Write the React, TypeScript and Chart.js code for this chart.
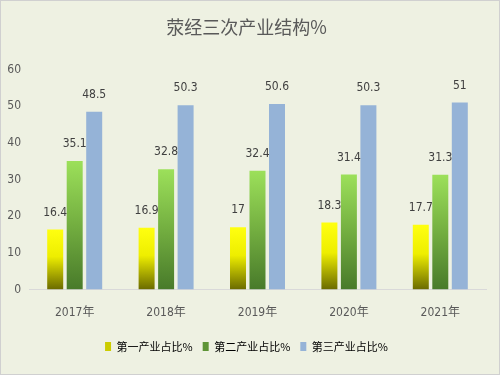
import React, { useEffect, useRef } from "react";
import { Chart, registerables } from "chart.js";

Chart.register(...registerables);

const categories = ["2017年", "2018年", "2019年", "2020年", "2021年"];
const primaryShare = [16.4, 16.9, 17, 18.3, 17.7];
const secondaryShare = [35.1, 32.8, 32.4, 31.4, 31.3];
const tertiaryShare = [48.5, 50.3, 50.6, 50.3, 51];
const seriesNames = ["第一产业占比%", "第二产业占比%", "第三产业占比%"];
const yTicks = [0, 10, 20, 30, 40, 50, 60];

const FONT = '"DejaVu Sans Condensed", "Noto Sans CJK SC", sans-serif';
const CJK = '"Noto Sans CJK SC", sans-serif';

function gradientFill(stops: [number, string][]) {
  return (ctx: any) => {
    const chart = ctx.chart;
    const ys = chart.scales?.y;
    if (!ys || ctx.dataIndex === undefined) return stops[0][1];
    const v = ctx.dataset.data[ctx.dataIndex] as number;
    const top = ys.getPixelForValue(v);
    const bottom = ys.getPixelForValue(0);
    if (!isFinite(top) || !isFinite(bottom) || top === bottom) return stops[0][1];
    const g = chart.ctx.createLinearGradient(0, top, 0, bottom);
    stops.forEach(([o, c]) => g.addColorStop(o, c));
    return g;
  };
}

const valueLabels = {
  id: "valueLabels",
  afterDatasetsDraw(chart: any) {
    const ctx = chart.ctx;
    ctx.save();
    ctx.font = `12px ${FONT}`;
    ctx.fillStyle = "#404040";
    ctx.textAlign = "center";
    ctx.textBaseline = "bottom";
    chart.data.datasets.forEach((ds: any, di: number) => {
      const meta = chart.getDatasetMeta(di);
      meta.data.forEach((el: any, i: number) => {
        ctx.fillText(String(ds.data[i]), el.x, el.y - 11);
      });
    });
    ctx.restore();
  },
};

export default function App() {
  const ref = useRef<HTMLCanvasElement>(null);
  useEffect(() => {
    document.body.style.margin = "0";
    const chart = new Chart(ref.current!, {
      type: "bar",
      data: {
        labels: categories,
        datasets: [
          {
            label: seriesNames[0],
            data: primaryShare,
            backgroundColor: gradientFill([
              [0, "#FFFF10"],
              [0.45, "#EEEE00"],
              [1, "#6A6A00"],
            ]),
          },
          {
            label: seriesNames[1],
            data: secondaryShare,
            backgroundColor: gradientFill([
              [0, "#9CE05A"],
              [0.5, "#73AE40"],
              [1, "#487A2A"],
            ]),
          },
          {
            label: seriesNames[2],
            data: tertiaryShare,
            backgroundColor: "#95B3D7",
          },
        ],
      },
      options: {
        animation: false,
        responsive: false,
        maintainAspectRatio: false,
        layout: { padding: { left: 6, right: 13, top: 0, bottom: 12 } },
        datasets: {
          bar: { categoryPercentage: 0.64, barPercentage: 0.82 },
        },
        scales: {
          x: {
            grid: { display: false },
            border: { display: true, color: "#D9D9D9", width: 1 },
            ticks: { color: "#595959", font: { family: FONT, size: 12 }, padding: 8 },
            afterFit: (axis: any) => {
              axis.height += 3;
            },
          },
          y: {
            min: 0,
            max: 60,
            afterBuildTicks: (axis: any) => {
              axis.ticks = yTicks.map((v) => ({ value: v }));
            },
            afterFit: (axis: any) => {
              axis.width = 22;
            },
            grid: { display: false, drawTicks: false },
            border: { display: false },
            ticks: { color: "#595959", font: { family: FONT, size: 12 }, padding: 8 },
          },
        },
        plugins: {
          title: {
            display: true,
            text: "荥经三次产业结构%",
            color: "#595959",
            font: { family: CJK, size: 18, weight: "normal" },
            padding: { top: 15, bottom: 32 },
          },
          legend: {
            position: "bottom",
            labels: {
              color: "#595959",
              font: { family: CJK, size: 11 },
              boxWidth: 6,
              boxHeight: 9,
              padding: 10,
              generateLabels: () =>
                seriesNames.map((n, i) => ({
                  text: n,
                  fillStyle: ["#CCCC00", "#5E9436", "#95B3D7"][i],
                  strokeStyle: "transparent",
                  lineWidth: 0,
                  datasetIndex: i,
                  hidden: false,
                })),
            },
          },
          tooltip: { enabled: false },
        },
      },
      plugins: [valueLabels],
    });
    return () => chart.destroy();
  }, []);
  return (
    <div
      style={{
        width: 500,
        height: 375,
        boxSizing: "border-box",
        background: "#EEF1E2",
        border: "1px solid #D0D0D0",
      }}
    >
      <canvas ref={ref} width={498} height={373} />
    </div>
  );
}
